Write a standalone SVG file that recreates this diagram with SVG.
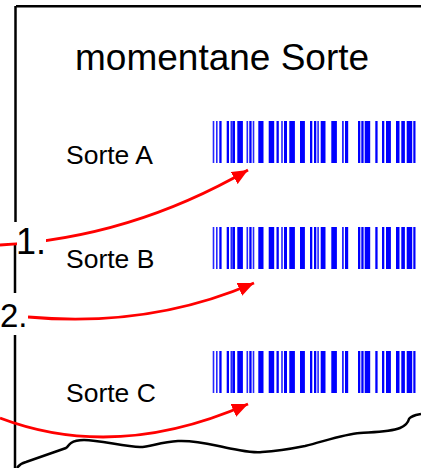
<svg xmlns="http://www.w3.org/2000/svg" width="421" height="468" viewBox="0 0 421 468">
<style>
.frame{stroke:#000;stroke-width:2.5;fill:none}
.arrow{stroke:#ff0000;stroke-width:2.8;fill:none}
.lbl{font-family:"Liberation Sans",Arial,sans-serif;fill:#000}
.bar{fill:#0000ff}
.thin{fill:#0000ff;opacity:0.85}
</style>
<defs>
<marker id="ah" markerUnits="userSpaceOnUse" markerWidth="18" markerHeight="14" refX="16" refY="7" orient="auto">
<path d="M0,0 L16,7 L0,14 z" fill="#ff0000"/>
</marker>
<g id="bc">
<rect class="thin" x="212.7" y="0" width="1.6" height="42"/>
<rect class="thin" x="216" y="0" width="1.6" height="42"/>
<rect class="bar" x="219.3" y="0" width="2.3" height="42"/>
<rect class="bar" x="226.7" y="0" width="2.3" height="42"/>
<rect class="thin" x="230.5" y="0" width="1.6" height="42"/>
<rect class="bar" x="232.3" y="0" width="2.7" height="42"/>
<rect class="bar" x="237.3" y="0" width="5.6" height="42"/>
<rect class="thin" x="246.5" y="0" width="1.6" height="42"/>
<rect class="bar" x="249.3" y="0" width="2.3" height="42"/>
<rect class="thin" x="252.7" y="0" width="1.6" height="42"/>
<rect class="bar" x="258.3" y="0" width="5.2" height="42"/>
<rect class="bar" x="268.7" y="0" width="5.5" height="42"/>
<rect class="bar" x="276.5" y="0" width="2.3" height="42"/>
<rect class="thin" x="281.2" y="0" width="1.6" height="42"/>
<rect class="bar" x="284" y="0" width="3" height="42"/>
<rect class="bar" x="289.3" y="0" width="5.6" height="42"/>
<rect class="bar" x="300" y="0" width="4.9" height="42"/>
<rect class="bar" x="310" y="0" width="2.3" height="42"/>
<rect class="bar" x="314" y="0" width="2.3" height="42"/>
<rect class="thin" x="317.3" y="0" width="1.6" height="42"/>
<rect class="bar" x="320.7" y="0" width="4.8" height="42"/>
<rect class="bar" x="331.3" y="0" width="5.6" height="42"/>
<rect class="thin" x="342" y="0" width="1.8" height="42"/>
<rect class="bar" x="345" y="0" width="3.2" height="42"/>
<rect class="bar" x="358" y="0" width="2.3" height="42"/>
<rect class="bar" x="361.3" y="0" width="2.3" height="42"/>
<rect class="bar" x="364.7" y="0" width="5.5" height="42"/>
<rect class="bar" x="375.3" y="0" width="2.3" height="42"/>
<rect class="bar" x="382" y="0" width="2.3" height="42"/>
<rect class="bar" x="386" y="0" width="4.9" height="42"/>
<rect class="bar" x="396" y="0" width="3.5" height="42"/>
<rect class="bar" x="401.3" y="0" width="3.6" height="42"/>
<rect class="bar" x="406.7" y="0" width="5.5" height="42"/>
<rect class="bar" x="413.3" y="0" width="2.2" height="42"/>
</g>
</defs>
<rect width="421" height="468" fill="#fff"/>
<g id="frame">
<line class="frame" x1="16" y1="6.2" x2="421" y2="6.2" stroke-width="3"/>
<line class="frame" x1="15.5" y1="6" x2="15.5" y2="222" stroke-width="2"/>
<line class="frame" x1="15" y1="243" x2="15" y2="293" stroke-width="2"/>
<line class="frame" x1="15" y1="335" x2="15" y2="468" stroke-width="2"/>
<path class="frame" d="M17,468 C19,465 22,463 26,462 L66,448 C68,447 68,445 71,443 C74,441 78,440 84,440 C100,440 125,447 140,447 C150,447 160,442 178,441 C200,440 215,446 233,449 C245,451 252,453 262,452 C280,451 290,449 305,446 C325,441 345,434 360,433 C375,432 390,432 400,428 C405,426 408,423 409,419 C410,417 413,416 416,415 L421,414"/>
</g>
<g id="title"><text class="lbl" x="75" y="70" font-size="37">momentane Sorte</text></g>
<g id="sorteA"><text class="lbl" x="66" y="164" font-size="26.5">Sorte A</text><use href="#bc" y="121"/></g>
<g id="sorteB"><text class="lbl" x="66" y="268" font-size="26.5">Sorte B</text><use href="#bc" y="227"/></g>
<g id="sorteC"><text class="lbl" x="66" y="402" font-size="26.5">Sorte C</text><use href="#bc" y="351"/></g>
<g id="connectors">
<path class="arrow" d="M0,245 Q130,238 248,170" marker-end="url(#ah)"/>
<path class="arrow" d="M28,317 Q150,328 254,283" marker-end="url(#ah)"/>
<path class="arrow" d="M0,418 Q116,462 248,404" marker-end="url(#ah)"/>
</g>
<g id="step1"><rect x="17" y="223" width="29" height="34" fill="#fff"/><text class="lbl" x="16" y="254" font-size="36">1.</text></g>
<g id="step2"><rect x="0" y="294" width="28" height="40" fill="#fff"/><text class="lbl" x="0" y="327" font-size="33">2.</text></g>
</svg>
